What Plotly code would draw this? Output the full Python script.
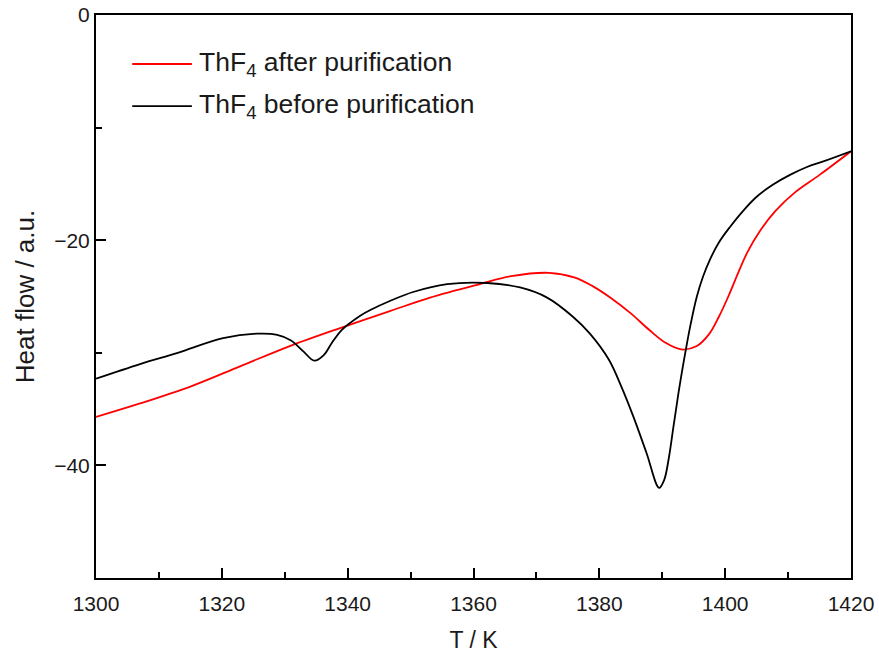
import plotly.graph_objects as go

# Black curve: ThF4 before purification
T_before = [1300, 1307, 1313, 1320.2, 1325.6, 1328.8, 1331, 1333, 1334.7, 1336.2,
            1337.5, 1339, 1340.5, 1342, 1343.6, 1346.7, 1350.4, 1355.8, 1362.2, 1367.4,
            1371.7, 1375.8, 1378.5, 1381.5, 1383.5, 1385.5, 1387.5, 1389.5, 1390.3,
            1391, 1391.8, 1392.6, 1393.5, 1394.5, 1395.5, 1396.5,
            1397.6, 1399, 1400.8, 1403, 1405.1, 1407.5, 1410.3, 1413, 1415.6, 1420]
H_before = [-32.3, -31.0, -30.0, -28.7, -28.3, -28.4, -28.9, -29.9, -30.7, -30.2,
            -29.1, -28.0, -27.3, -26.7, -26.2, -25.4, -24.6, -23.9, -23.8, -24.2,
            -25.1, -26.8, -28.3, -30.6, -33.0, -35.8, -38.9, -42.0, -41.3,
            -39.5, -36.5, -33.5, -30.5, -27.5, -25.0, -23.2,
            -21.7, -20.2, -18.8, -17.3, -16.1, -15.1, -14.2, -13.5, -13.0, -12.1]

# Red curve: ThF4 after purification
T_after = [1300, 1307, 1315, 1322.9, 1330.8, 1338.8, 1346.7, 1353.1, 1361.0, 1366,
           1372, 1376, 1379, 1382, 1385, 1388, 1390.5, 1393, 1395.5, 1397.5,
           1399, 1400.5, 1402, 1403.5, 1405.5, 1408, 1411, 1415, 1420]
H_after = [-35.7, -34.5, -33.0, -31.2, -29.4, -27.8, -26.3, -25.1, -23.9, -23.2,
           -22.9, -23.3, -24.1, -25.2, -26.5, -28.0, -29.1, -29.7, -29.4, -28.3,
           -26.8, -25.0, -23.0, -21.1, -19.2, -17.4, -15.8, -14.2, -12.1]

legend_labels = ["ThF<sub>4</sub> after purification", "ThF<sub>4</sub> before purification"]
x_ticks = [1300, 1320, 1340, 1360, 1380, 1400, 1420]
y_ticks = [0, -20, -40]

fig = go.Figure()
fig.add_trace(go.Scatter(x=T_after, y=H_after, mode="lines", name=legend_labels[0],
                         line=dict(color="#ff0000", width=1.8, shape="spline", smoothing=1.0)))
fig.add_trace(go.Scatter(x=T_before, y=H_before, mode="lines", name=legend_labels[1],
                         line=dict(color="#000000", width=1.8, shape="spline", smoothing=1.0)))

font_family = "Liberation Sans, Arial, sans-serif"
txt_color = "#1a1a1a"

# manual legend
leg_items = [(legend_labels[0], "#ff0000", 0.913), (legend_labels[1], "#000000", 0.838)]
for label, col, yy in leg_items:
    fig.add_shape(type="line", xref="paper", yref="paper", x0=0.048, x1=0.127, y0=yy, y1=yy,
                  line=dict(color=col, width=1.8))
    fig.add_annotation(xref="paper", yref="paper", x=0.134, y=yy, text=label, showarrow=False,
                       xanchor="left", yanchor="middle",
                       font=dict(family=font_family, size=26.5, color=txt_color))

fig.update_layout(
    width=879, height=653,
    margin=dict(l=96, r=28, t=15, b=75),
    paper_bgcolor="white", plot_bgcolor="white",
    showlegend=False,
    font=dict(family=font_family, size=21, color=txt_color),
)
fig.update_xaxes(
    range=[1300, 1420], tickvals=x_ticks, ticks="inside", ticklen=10, tickwidth=2,
    tickcolor="black", showline=True, linecolor="black", linewidth=2, mirror=True,
    showgrid=False, zeroline=False, automargin=False, ticklabelstandoff=6,
    minor=dict(dtick=10, ticks="inside", ticklen=6, tickwidth=2, tickcolor="black"),
    title=dict(text="T / K", font=dict(size=23, family=font_family, color=txt_color), standoff=18),
    tickfont=dict(size=21, family=font_family, color=txt_color),
)
fig.update_yaxes(
    range=[-50, 0], tickvals=y_ticks, ticks="inside", ticklen=10, tickwidth=2,
    tickcolor="black", showline=True, linecolor="black", linewidth=2, mirror=True,
    showgrid=False, zeroline=False, automargin=False,
    minor=dict(dtick=10, ticks="inside", ticklen=6, tickwidth=2, tickcolor="black"),
    title=dict(text="Heat flow / a.u.", font=dict(size=26, family=font_family, color=txt_color), standoff=12),
    tickfont=dict(size=21, family=font_family, color=txt_color),
)

fig.write_html("out.html")
